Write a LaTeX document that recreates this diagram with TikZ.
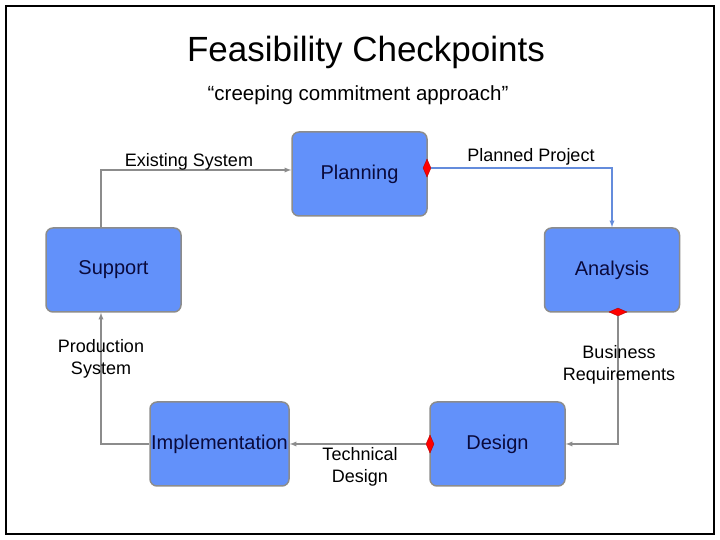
\documentclass[tikz,border=0pt]{standalone}
\usepackage{fontspec}
\setmainfont{Liberation Sans}
\usetikzlibrary{positioning}
\usetikzlibrary{shapes.geometric}
\definecolor{boxblue}{RGB}{98,145,250}
\definecolor{linegray}{RGB}{140,140,140}
\definecolor{lineblue}{RGB}{100,140,220}
\definecolor{navy}{RGB}{10,10,60}
\begin{document}
\begin{tikzpicture}[x=1pt,y=1pt,
  phase/.style={draw=linegray, line width=1.5pt, fill=boxblue, rounded corners=7pt,
    minimum width=135pt, minimum height=84pt, inner sep=0pt, text=navy, font=\fontsize{20}{22}\selectfont},
  flow/.style={draw=linegray, line width=1.3pt, -latex},
  gate/.style={diamond, fill=red, draw=red!70!black, inner sep=0pt, minimum width=8pt, minimum height=18pt, aspect=0.45},
  lbl/.style={font=\fontsize{18}{22}\selectfont, align=center}]

\useasboundingbox (0,0) rectangle (720,540);
\draw[line width=1.5pt] (6,6) rectangle (714,534);

% title
\node at (366,488) {\fontsize{35}{38}\selectfont Feasibility Checkpoints};
\node at (358,445) {\fontsize{20.5}{22}\selectfont ``creeping commitment approach''};

% phases
\node[phase] (plan) at (359.5,366) {Planning};
\node[phase] (anal) at (612,270) {Analysis};
\node[phase] (supp) at (113.5,270) {Support};
\node[phase, minimum width=139pt] (impl) at (219.5,96) {Implementation};
\node[phase] (desg) at (497.5,96) {Design};

% gates
\node[gate] (g1) at (427,372) {};
\node[gate, minimum width=18pt, minimum height=8pt] (g2) at (618,228) {};
\node[gate] (g3) at (430,96) {};

\coordinate (c1) at (101,370);
\coordinate (c2) at (612,372);
\coordinate (c3) at (618,96);
\coordinate (c4) at (101,96);

% connectors
\draw[flow] (supp.north -| c1) -- (c1) -- (plan.west |- c1);
\draw[flow, draw=lineblue] (g1.east) -- (c2) -- (anal.north -| c2);
\draw[flow] (g2.south) -- (c3) -- (desg.east);
\draw[flow] (g3.west) -- (impl.east);
\draw[flow] (impl.west) -- (c4) -- (supp.south -| c4);

% labels
\node[lbl] (l1) at (189,378) {Existing System};
\node[lbl] (l2) at (531,383) {Planned Project};
\node[lbl] (l3) at (619,175) {Business\\Requirements};
\node[lbl] (l4) at (360,73) {Technical\\Design};
\node[lbl] (l5) at (101,181) {Production\\System};
\end{tikzpicture}
\end{document}
